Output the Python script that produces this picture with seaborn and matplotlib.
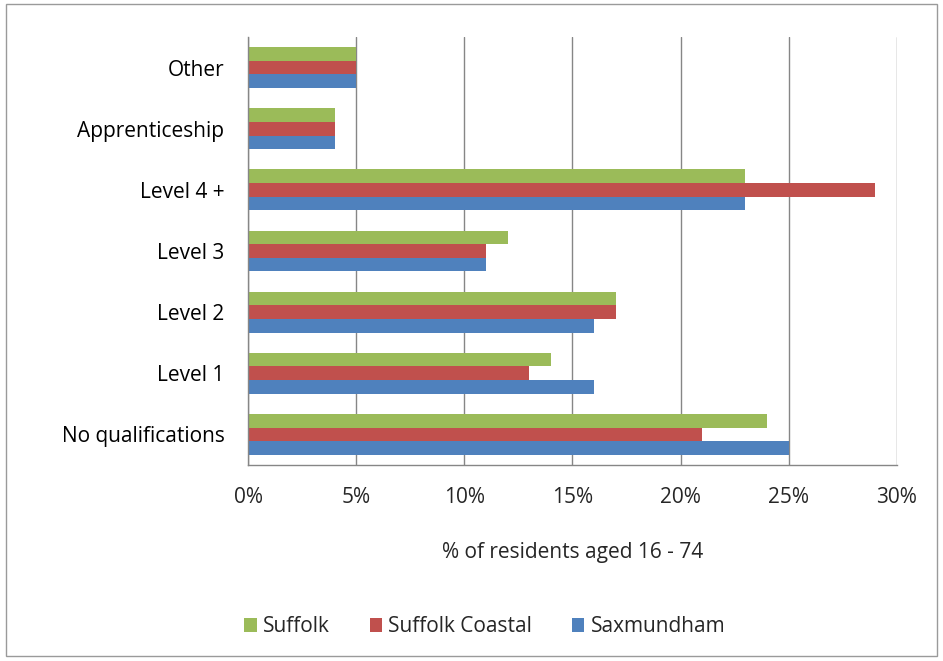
import matplotlib
matplotlib.use("Agg")
import matplotlib.pyplot as plt
import seaborn as sns
import pandas as pd
from matplotlib.ticker import PercentFormatter, FixedLocator
from matplotlib.patches import Rectangle

categories = ["Other", "Apprenticeship", "Level 4 +", "Level 3", "Level 2", "Level 1", "No qualifications"]
suffolk = [5, 4, 23, 12, 17, 14, 24]
suffolk_coastal = [5, 4, 29, 11, 17, 13, 21]
saxmundham = [5, 4, 23, 11, 16, 16, 25]
series_names = ["Suffolk", "Suffolk Coastal", "Saxmundham"]
colors = ["#9BBB59", "#C0504D", "#4F81BD"]

rows = []
for name, vals in zip(series_names, [suffolk, suffolk_coastal, saxmundham]):
    for c, v in zip(categories, vals):
        rows.append({"Category": c, "Series": name, "Value": v})
df = pd.DataFrame(rows)

sns.set_style("white")
plt.rcParams["font.family"] = ["Open Sans", "DejaVu Sans"]

fig = plt.figure(figsize=(9.43, 6.61), dpi=100)
ax = fig.add_axes([0.263, 0.2965, 0.688, 0.6475])

sns.barplot(data=df, y="Category", x="Value", hue="Series", order=categories,
            hue_order=series_names, palette=colors, orient="h", width=0.67,
            saturation=1, ax=ax, legend=True, linewidth=0, gap=0)

ax.set_xlim(0, 30)
ax.set_ylim(len(categories) - 0.5, -0.5)
ax.set_xticks([0, 5, 10, 15, 20, 25, 30])
ax.xaxis.set_major_formatter(PercentFormatter(decimals=0))
ax.grid(axis="x", color="#868686", linewidth=1)
ax.grid(axis="y", visible=False)
ax.set_axisbelow(True)
for s in ["top", "right"]:
    ax.spines[s].set_visible(False)
for s in ["left", "bottom"]:
    ax.spines[s].set_color("#868686")
    ax.spines[s].set_linewidth(1)

ax.set_yticks(range(len(categories)))
ax.set_yticklabels(categories)
ax.tick_params(axis="y", which="major", length=0, labelsize=15, pad=17, colors="#000000")
ax.yaxis.set_minor_locator(FixedLocator([i - 0.5 for i in range(len(categories) + 1)]))
ax.tick_params(axis="y", which="minor", length=6, color="#868686", width=1)
ax.tick_params(axis="x", which="major", length=6, color="#868686", width=1, labelsize=15, pad=10)
for lbl in ax.get_yticklabels():
    lbl.set_color("#000000")

ax.set_ylabel("")
ax.set_xlabel("% of residents aged 16 - 74", fontsize=15, labelpad=24)

leg = ax.legend(loc="upper center", bbox_to_anchor=(0.365, -0.31), ncol=3, frameon=False,
                fontsize=15, handlelength=0.6, handleheight=0.6, columnspacing=1.9,
                handletextpad=0.3)

fig.patches.append(Rectangle((0.006, 0.008), 0.988, 0.986, transform=fig.transFigure,
                             fill=False, edgecolor="#9a9a9a", linewidth=1))

fig.savefig("out.png", dpi=100)
